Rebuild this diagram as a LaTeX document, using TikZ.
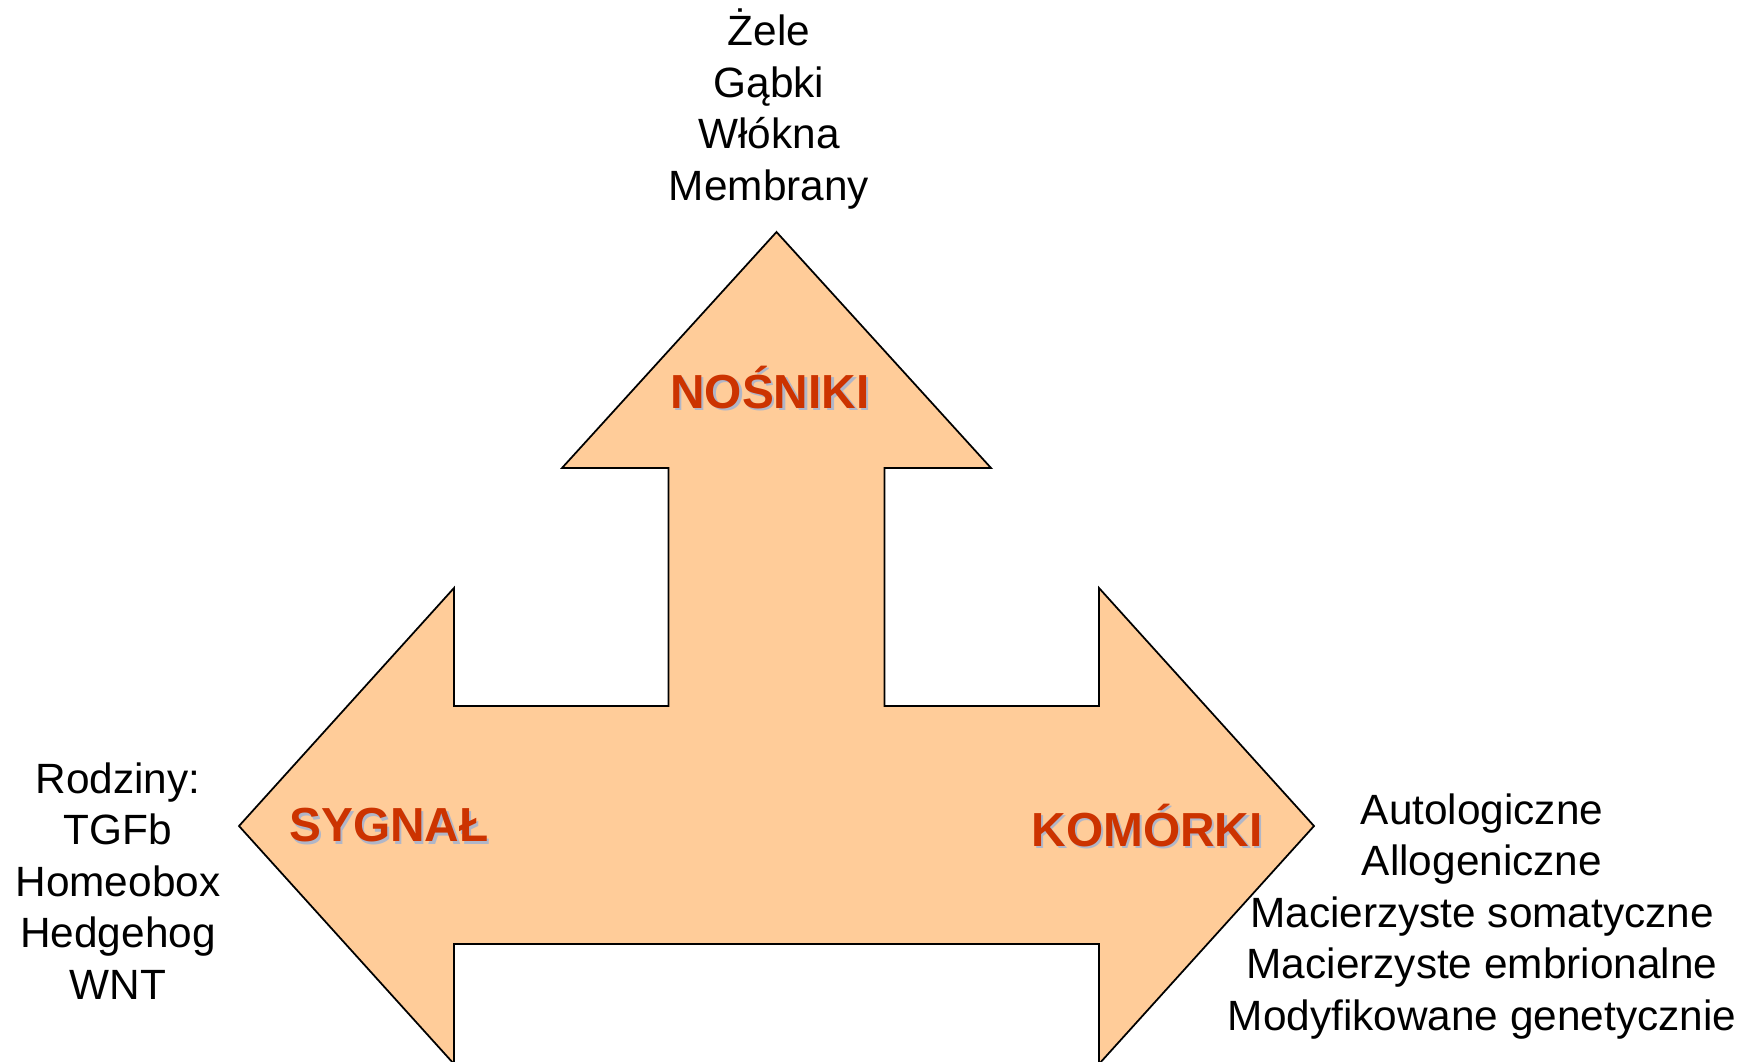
\documentclass[tikz,border=0pt]{standalone}
\usepackage{fontspec}
\setmainfont{Liberation Sans}
\usepackage{tikz}
\usetikzlibrary{positioning}
\definecolor{ArrowPeach}{HTML}{FFCC99}
\definecolor{LabelRust}{HTML}{CC3300}
\definecolor{LabelShade}{HTML}{B0B6C8}
% bold label with a soft drop shadow
\newcommand{\shadelabel}[1]{\rlap{\kern0.65pt\raisebox{-0.65pt}{\color{LabelShade}#1}}#1}

\begin{document}
\begin{tikzpicture}
\tikzset{head/.style={font=\fontsize{13.6}{16}\selectfont\bfseries,text=LabelRust},list/.style={align=center,font=\fontsize{12.05}{14.65}\selectfont,inner sep=0pt}}
\useasboundingbox (0,0) rectangle (17.58,10.61);
% three-headed arrow: up, left, right
\draw[fill=ArrowPeach,line width=0.5pt,line join=miter]
  (7.765,8.29) -- (9.91,5.93) -- (8.845,5.93) -- (8.845,3.55)
  -- (10.99,3.55) -- (10.99,4.73) -- (13.14,2.35) -- (10.99,-0.03)
  -- (10.99,1.17) -- (4.54,1.17) -- (4.54,-0.03) -- (2.39,2.35)
  -- (4.54,4.73) -- (4.54,3.55) -- (6.685,3.55) -- (6.685,5.93)
  -- (5.62,5.93) -- cycle;
\node[head] (nos) at (7.70,6.725) {\shadelabel{NOŚNIKI}};
\node[head] (syg) at (3.89,2.345) {\shadelabel{SYGNAŁ}};
\node[head] (kom) at (11.47,2.345) {\shadelabel{KOMÓRKI}};
\node[list] (nosl) at (7.69,9.52) {Żele\\Gąbki\\Włókna\\Membrany};
\node[list] (sygl) at (1.18,1.80) {Rodziny:\\TGFb\\Homeobox\\Hedgehog\\WNT};
\node[list] (koml) at (14.82,1.445) {Autologiczne\\Allogeniczne\\Macierzyste somatyczne\\Macierzyste embrionalne\\Modyfikowane genetycznie};
\end{tikzpicture}
\end{document}
